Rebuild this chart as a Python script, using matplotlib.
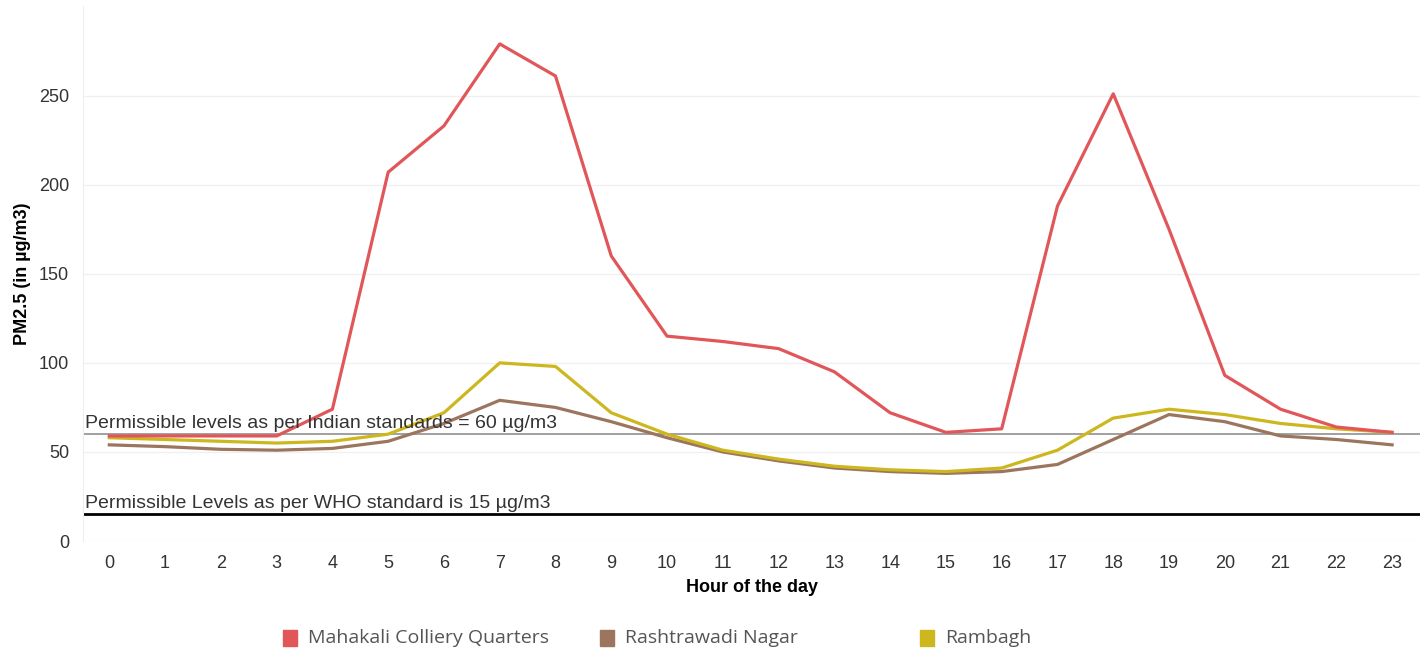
import matplotlib
matplotlib.use('Agg')
import matplotlib.pyplot as plt
from matplotlib.patches import Rectangle

hours = list(range(24))
mahakali = [59, 59, 59, 59, 74, 207, 233, 279, 261, 160, 115, 112,
            108, 95, 72, 61, 63, 188, 251, 175, 93, 74, 64, 61]
rashtrawadi = [54, 53, 51.5, 51, 52, 56, 66, 79, 75, 67, 58, 50,
               45, 41, 39, 38, 39, 43, 57, 71, 67, 59, 57, 54]
rambagh = [58, 57, 56, 55, 56, 60, 72, 100, 98, 72, 60, 51,
           46, 42, 40, 39, 41, 51, 69, 74, 71, 66, 63, 61]
series_names = ['Mahakali Colliery Quarters', 'Rashtrawadi Nagar', 'Rambagh']
colors = ['#e15759', '#9c755f', '#cdb71e']
indian_std = 60
who_std = 15

plt.rcParams['font.family'] = ['Liberation Sans', 'DejaVu Sans']

fig = plt.figure(figsize=(14.2, 6.48), dpi=100)
ax = fig.add_axes([0.0585, 0.165, 0.9415, 0.825])

ax.plot(hours, rashtrawadi, color=colors[1], lw=2.3, zorder=3)
ax.plot(hours, rambagh, color=colors[2], lw=2.3, zorder=3)
ax.plot(hours, mahakali, color=colors[0], lw=2.3, zorder=4)

ax.axhline(indian_std, color='#999999', lw=1.3, zorder=2)
ax.axhline(who_std, color='black', lw=2.0, zorder=2)
ax.text(-0.44, indian_std + 1.2, 'Permissible levels as per Indian standards = 60 \u00b5g/m3',
        fontsize=14, color='#333333', va='bottom', ha='left', zorder=5)
ax.text(-0.44, who_std + 1.2, 'Permissible Levels as per WHO standard is 15 \u00b5g/m3',
        fontsize=14, color='#333333', va='bottom', ha='left', zorder=5)

ax.set_xlim(-0.47, 23.5)
ax.set_ylim(0, 300)
ax.set_xticks(hours)
ax.set_yticks([0, 50, 100, 150, 200, 250])
ax.tick_params(length=0, labelsize=13, colors='#333333', pad=10)
ax.grid(axis='y', color='#f0f0f0', lw=1)
ax.set_axisbelow(True)
for s in ['top', 'right', 'bottom']:
    ax.spines[s].set_visible(False)
ax.spines['left'].set_color('#eeeeee')

ax.set_xlabel('Hour of the day', fontsize=13, fontweight='bold', labelpad=5)
ax.set_ylabel('PM2.5 (in \u00b5g/m3)', fontsize=13, fontweight='bold', labelpad=6)

# legend, fixed-width columns like the original
x0 = [283, 600, 920]
for name, c, xs in zip(series_names, colors, x0):
    fig.patches.append(Rectangle((xs / 1420, (648 - 646) / 648), 14 / 1420, 16 / 648,
                                 transform=fig.transFigure, color=c, figure=fig))
    fig.text((xs + 25) / 1420, (648 - 638) / 648, name, fontsize=14,
             color='#555555', va='center', ha='left',
             family=['Open Sans', 'DejaVu Sans'])

fig.savefig('out.png', dpi=100)
